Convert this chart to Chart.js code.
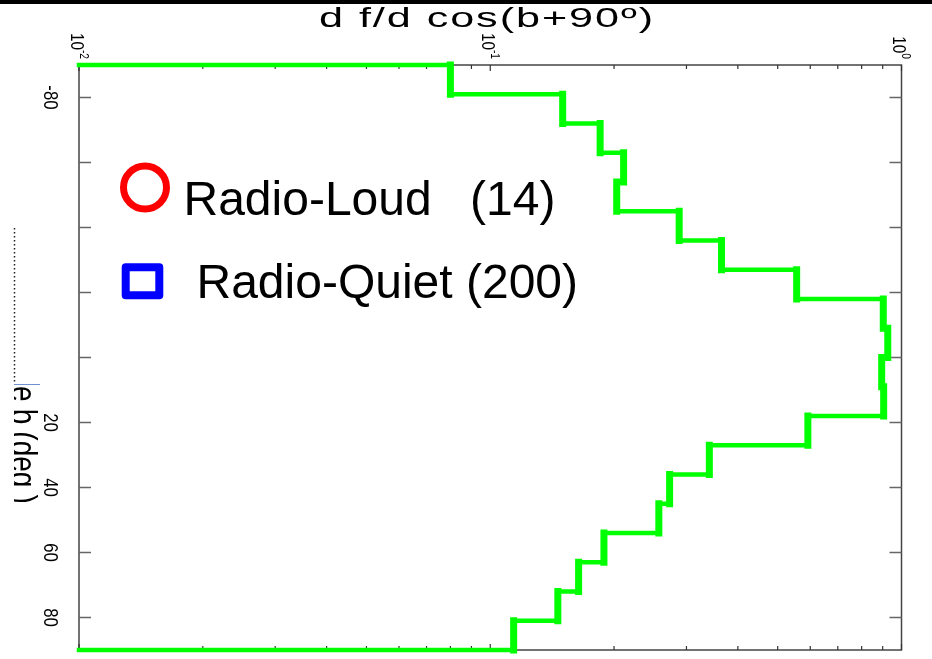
<!DOCTYPE html>
<html><head><meta charset="utf-8">
<script src="https://cdn.jsdelivr.net/npm/chart.js@4/dist/chart.umd.min.js"></script>
<style>html,body{margin:0;padding:0;background:#fff;}#wrap{width:932px;height:659px;}</style>
</head><body><div id="wrap"><canvas id="c" width="932" height="659"></canvas></div>
<script>
// ---- data ----
const binEdges = [-90,-81,-72,-63,-54,-45,-36,-27,-18,-9,0,9,18,27,36,45,54,63,72,81,90];
const binValues = [0.080,0.150,0.185,0.211,0.203,0.288,0.365,0.556,0.903,0.926,0.895,0.905,0.592,0.341,0.273,0.257,0.189,0.164,0.146,0.114];
const xMin = 0.01, xMax = 1;
const xMajorTicks = [0.01, 0.1, 1];
const xTickLabels = [['10','-2'],['10','-1'],['10','0']];
const yTickValues = [-80,-60,-40,-20,0,20,40,60,80];
const yTickLabels = ['-80','','','','','20','40','60','80'];
const titleText = 'd f/d cos(b+90º)';
const legendLoud = ['Radio-Loud', '(14)'];
const legendQuiet = ['Radio-Quiet (200)'];
const axisLabelText = 'e b (deg )';

// step outline built from bins
const stepPoints = [{x: xMin, y: binEdges[0]}];
binValues.forEach((v, i) => {
  stepPoints.push({x: v, y: binEdges[i]});
  stepPoints.push({x: v, y: binEdges[i + 1]});
});
stepPoints.push({x: xMin, y: binEdges[binEdges.length - 1]});

const FONT = '"Liberation Sans", Arial, sans-serif';

function rotText(ctx, text, x, y, size, sy, align, localY, wordSp) {
  ctx.save();
  ctx.translate(x, y);
  ctx.scale(1, sy);
  ctx.rotate(Math.PI / 2);
  ctx.font = size + 'px ' + FONT;
  if (wordSp !== undefined && 'wordSpacing' in ctx) ctx.wordSpacing = wordSp;
  ctx.textAlign = align;
  ctx.textBaseline = 'alphabetic';
  ctx.fillText(text, 0, localY);
  ctx.restore();
}

const framePlugin = {
  id: 'frame',
  beforeDatasetsDraw(chart) {
    const ctx = chart.ctx, a = chart.chartArea;
    const xs = chart.scales.x, ys = chart.scales.y;
    ctx.save();
    ctx.strokeStyle = '#444';
    ctx.lineWidth = 1.5;
    ctx.strokeRect(a.left, a.top, a.right - a.left, a.bottom - a.top);
    ctx.strokeStyle = '#666';
    ctx.lineWidth = 1.5;
    ys.ticks.forEach(t => {
      const py = ys.getPixelForValue(t.value);
      ctx.beginPath();
      ctx.moveTo(a.left, py); ctx.lineTo(a.left + 12, py);
      ctx.moveTo(a.right - 12, py); ctx.lineTo(a.right, py);
      ctx.stroke();
    });
    ctx.strokeStyle = '#333';
    ctx.lineWidth = 1.2;
    xs.ticks.forEach(t => {
      const px = xs.getPixelForValue(t.value);
      const len = t.major ? 6 : 4;
      ctx.beginPath();
      ctx.moveTo(px, a.top); ctx.lineTo(px, a.top + len);
      ctx.moveTo(px, a.bottom); ctx.lineTo(px, a.bottom - len);
      ctx.stroke();
    });
    ctx.restore();
  },
  afterDatasetsDraw(chart) {
    const ctx = chart.ctx;
    const xs = chart.scales.x, ys = chart.scales.y;
    ctx.save();
    ctx.fillStyle = '#000';
    // y tick labels, rotated
    yTickValues.forEach((v, i) => {
      if (!yTickLabels[i]) return;
      const py = ys.getPixelForValue(v);
      rotText(ctx, yTickLabels[i], 52, py, 21, 0.8, 'center', 0.358 * 21);
    });
    // x tick labels (10^n), rotated
    xMajorTicks.forEach((v, i) => {
      const px = xs.getPixelForValue(v);
      const F = 18, Fs = 12, sy = 0.85;
      ctx.save();
      ctx.translate(px, 59);
      ctx.scale(1, sy);
      ctx.rotate(Math.PI / 2);
      ctx.font = Fs + 'px ' + FONT;
      const w2 = ctx.measureText(xTickLabels[i][1]).width;
      ctx.font = F + 'px ' + FONT;
      const w1 = ctx.measureText(xTickLabels[i][0]).width;
      ctx.textAlign = 'left';
      ctx.textBaseline = 'alphabetic';
      ctx.fillText(xTickLabels[i][0], -(w1 + w2), 2 + 0.358 * F);
      ctx.font = Fs + 'px ' + FONT;
      ctx.fillText(xTickLabels[i][1], -w2, -5 + 0.358 * Fs);
      ctx.restore();
    });
    // title (stretched, spaced)
    ctx.save();
    ctx.translate(487, 27);
    ctx.scale(1.6, 1);
    ctx.font = '27px ' + FONT;
    if ('letterSpacing' in ctx) ctx.letterSpacing = '1.2px';
    ctx.textAlign = 'center';
    ctx.textBaseline = 'alphabetic';
    ctx.fillText(titleText, 0, 0);
    ctx.restore();
    // top black band
    ctx.fillStyle = '#000';
    ctx.fillRect(0, 0, 932, 4);
    // legend markers
    ctx.strokeStyle = '#ff0000';
    ctx.lineWidth = 7;
    ctx.beginPath();
    ctx.arc(145, 187.5, 21.5, 0, Math.PI * 2);
    ctx.stroke();
    ctx.strokeStyle = '#0000ff';
    ctx.lineWidth = 8;
    ctx.lineJoin = 'round';
    ctx.strokeRect(125.7, 267.3, 33.6, 28);
    // legend text
    ctx.fillStyle = '#000';
    ctx.font = '48px ' + FONT;
    ctx.textAlign = 'left';
    ctx.textBaseline = 'alphabetic';
    ctx.fillText(legendLoud[0], 183.5, 215);
    ctx.fillText(legendLoud[1], 470, 215);
    ctx.fillText(legendQuiet[0], 196.5, 298);
    // cut-off axis label on the left
    ctx.save();
    ctx.beginPath();
    ctx.rect(14, 0, 60, 659);
    ctx.clip();
    rotText(ctx, axisLabelText, 11, 386, 36, 0.78, 'left', 0, '-1px');
    ctx.restore();
    ctx.strokeStyle = '#222';
    ctx.lineWidth = 1.5;
    ctx.setLineDash([1.5, 2.5]);
    ctx.beginPath();
    ctx.moveTo(14.5, 228); ctx.lineTo(14.5, 384);
    ctx.stroke();
    ctx.setLineDash([]);
    ctx.strokeStyle = '#6f8fd0';
    ctx.lineWidth = 1;
    ctx.beginPath();
    ctx.moveTo(14, 384.5); ctx.lineTo(40, 384.5);
    ctx.stroke();
    ctx.restore();
  }
};

new Chart(document.getElementById('c'), {
  type: 'scatter',
  data: {
    datasets: [{
      data: stepPoints,
      showLine: true,
      borderColor: '#00ff00',
      backgroundColor: '#00ff00',
      borderWidth: 5,
      pointRadius: 0,
      pointHoverRadius: 0,
      clip: false,
      borderCapStyle: 'square',
      borderJoinStyle: 'miter',
      segment: {
        borderWidth: c => (c.p0.parsed.x === c.p1.parsed.x ? 7 : 4.5)
      }
    }]
  },
  options: {
    responsive: false,
    animation: false,
    events: [],
    layout: { padding: { left: 79, top: 65, right: 30.5, bottom: 9 } },
    plugins: { legend: { display: false }, tooltip: { enabled: false }, title: { display: false } },
    scales: {
      x: {
        type: 'logarithmic', position: 'top', min: xMin, max: xMax,
        ticks: { display: false }, grid: { display: false }, border: { display: false },
        afterBuildTicks: s => {
          const t = [];
          xMajorTicks.forEach((m, i) => {
            t.push({ value: m, major: true });
            if (i < xMajorTicks.length - 1) for (let k = 2; k <= 9; k++) t.push({ value: m * k, major: false });
          });
          s.ticks = t;
        },
        afterFit: s => { s.height = 0; }
      },
      y: {
        type: 'linear', min: -90, max: 90, reverse: true,
        ticks: { display: false }, grid: { display: false }, border: { display: false },
        afterBuildTicks: s => { s.ticks = yTickValues.map(v => ({ value: v })); },
        afterFit: s => { s.width = 0; }
      }
    }
  },
  plugins: [framePlugin]
});
</script>
</body></html>
